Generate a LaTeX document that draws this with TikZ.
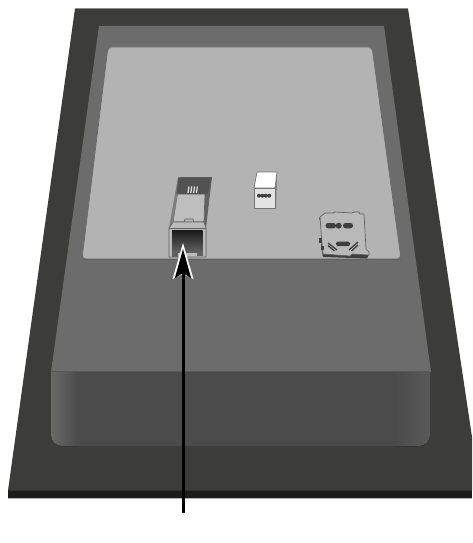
\documentclass[tikz,border=0pt]{standalone}
\usetikzlibrary{arrows.meta}
\definecolor{baseDark}{HTML}{3C3C3A}
\definecolor{baseEdge}{HTML}{1C1C1A}
\definecolor{slope}{HTML}{6C6C6C}
\definecolor{panel}{HTML}{B3B3B3}
\definecolor{faceA}{HTML}{6A6A6A}
\definecolor{faceB}{HTML}{4B4B4B}
\definecolor{faceC}{HTML}{5A5A5A}
\definecolor{ink}{HTML}{3F3F3F}
\tikzset{
  outlined/.style={draw=#1,line width=0.7pt,line join=round},
  callout/.style={black,line width=3pt,-{Stealth[length=29pt,width=16pt,inset=5pt]}}
}
\begin{document}
\begin{tikzpicture}[x=1pt,y=-1pt]
\useasboundingbox (0,0) rectangle (472,543);
\clip (0,0) rectangle (472,543);
% base plate
\fill[baseEdge] (8,490) rectangle (472,498);
\fill[black!30] (8,498) rectangle (472,499);
\fill[baseDark] (75,8.5) -- (408,8.5) -- (480,490.5) -- (8,490.5) -- cycle;
\draw[black!45,line width=0.8pt] (75,8.5) -- (408,8.5);
% sloped housing
\fill[slope] (99,26) -- (384,26) -- (431,372) -- (51,372) -- cycle;
% front face
\begin{scope}
\clip[rounded corners=11pt] (51,340) -- (51,446) -- (430,446) -- (430,340) -- cycle;
\fill[left color=faceA,right color=faceB] (50,371) rectangle (78,447);
\fill[faceB] (78,371) rectangle (395,447);
\fill[left color=faceB,right color=faceC] (395,371) rectangle (431,447);
\end{scope}
\draw[black!65,line width=0.5pt] (51,371) -- (430,371);
% panel
\fill[panel,draw=black!60,line width=0.6pt,rounded corners=4pt] (108,47) -- (372,47) -- (401,259) -- (82,259) -- cycle;
\fill[slope!90!black] (82,259) rectangle (401,260.2);
% RJ connector
\fill[black!62] (205,193) -- (178,177) -- (212,177) -- (206,228) -- (206,257) -- (203,257) -- cycle;
\fill[panel!85!white,outlined=black!62] (177,194) -- (205,194) -- (204,222) -- (193.5,222) -- (193,219) -- (185,219) -- (184,222) -- (173,222) -- cycle;
\fill[panel!70!black] (178,177) -- (181,177) -- (172,228) -- (169,228) -- cycle;
\fill[black!68] (178.5,177.5) -- (211.5,177.5) -- (208,194) -- (176.5,194) -- cycle;
\foreach \i in {0,1,2,3}{\draw[black!10,line width=1.2pt] (189+\i*2.8,186.5) -- (188+\i*2.8,193);}
\fill[panel!90!white,outlined=black!62] (173,222) -- (204,222) -- (206,228) -- (206,257) -- (169,257) -- (169,228) -- cycle;
\draw[black!62,line width=0.7pt] (169,228) -- (206,228);
\shade[top color=black!90,bottom color=black!62] (172,230) rectangle (202.5,252);
\fill[black!62] (172,252) rectangle (178,257);
\fill[black!62] (197,252) rectangle (202.5,256);
% small white block
\fill[black!55] (275,188) -- (277,172) -- (276,208) -- (275,208) -- cycle;
\fill[white,outlined=black!55] (254,188) -- (257,172) -- (277,172) -- (275,188) -- cycle;
\fill[black!11,outlined=black!55] (254,188) rectangle (275,208);
\foreach \i in {0,1,2,3}{\fill[ink] (259+\i*3.4,195.7) circle (2pt);}
% SIM holder
\fill[ink] (319,218) -- (323,216) -- (322,240) -- (321,246) -- (323,257) -- (367,258.5) -- (369,254) -- (330,250) -- cycle;
\fill[panel!92!white,outlined=black!62] (320,217) -- (325,213) -- (333,213) -- (335,212) -- (352,213) -- (354,212) -- (359,212) -- (360,214) -- (364,214) -- (366,249) -- (369,252) -- (369,255) -- (352,254) -- (350,256) -- (323,254) -- (322,244) -- cycle;
\fill[ink] (319,238) rectangle (322,243);
\fill[ink] (321,246) rectangle (324,250);
\fill[ink,rounded corners=2.5pt] (325.5,223) rectangle (336,228.3);
\fill[ink] (338.7,225.7) circle (3pt);
\fill[ink,rounded corners=2.5pt] (343,223) rectangle (353,228.3);
\fill[ink,rounded corners=2.2pt] (336,241.5) rectangle (350,246.2);
\draw[ink,line width=1.3pt] (328,243) -- (337,250);
\draw[ink,line width=1.3pt] (328,245.5) -- (334.5,251);
\draw[ink,line width=1.3pt] (358,242) -- (349,250);
\draw[ink,line width=1.3pt] (358,245) -- (351.5,251);
% callout arrow
\coordinate (arrowTail) at (183,513);
\coordinate (arrowTip) at (183,249);
\coordinate (haloTip) at (183,243);
\coordinate (haloRight) at (193.5,279);
\coordinate (haloNotch) at (183,274);
\coordinate (haloLeft) at (172.5,279);
\fill[white] (haloTip) -- (haloRight) -- (haloNotch) -- (haloLeft) -- cycle;
\draw[callout] (arrowTail) -- (arrowTip);
\end{tikzpicture}
\end{document}
